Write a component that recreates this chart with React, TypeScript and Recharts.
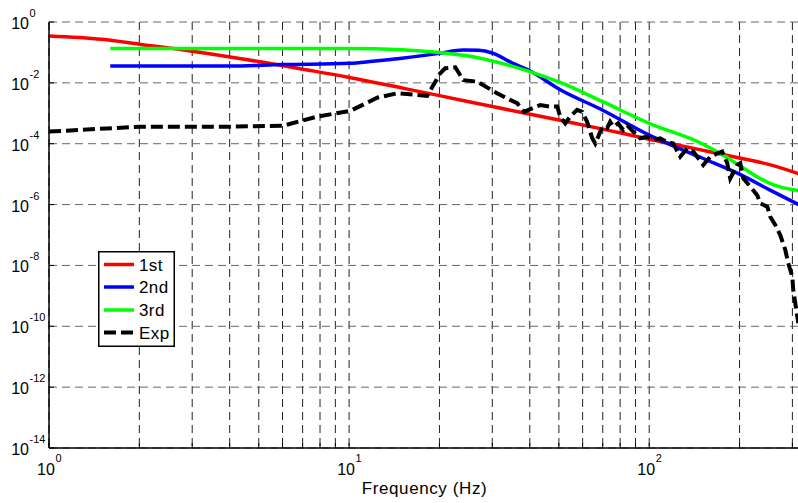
import React from 'react';
import { LineChart, Line, XAxis, YAxis, CartesianGrid, Legend } from 'recharts';

const FONT = '"Liberation Sans", Arial, Helvetica, sans-serif';

const xTicks = [1, 2, 3, 4, 5, 6, 7, 8, 9, 10, 20, 30, 40, 50, 60, 70, 80, 90, 100, 200, 300];
const yTicks = [1e-14, 1e-12, 1e-10, 1e-8, 1e-6, 1e-4, 1e-2, 1];

// 1st order model
const f1st = [1, 1.5, 2, 3, 5, 7, 10, 15, 20, 30, 50, 70, 100, 150, 200, 250, 318];
const p1st = [0.347, 0.269, 0.186, 0.11, 0.0501, 0.0282, 0.0151, 6.76e-3, 3.8e-3, 1.66e-3, 6.03e-4, 3.02e-4, 1.41e-4, 6.17e-5, 3.39e-5, 2.09e-5, 1.0e-5];

// 2nd order model
const f2nd = [1.6, 2, 3, 4, 6, 10, 12, 15, 20, 24, 27, 30, 35, 40, 50, 70, 100, 150, 200, 250, 318];
const p2nd = [0.0355, 0.0355, 0.0355, 0.0355, 0.0398, 0.0437, 0.0513, 0.0646, 0.0933, 0.12, 0.117, 0.0955, 0.0447, 0.0251, 6.31e-3, 1.26e-3, 1.91e-4, 3.39e-5, 1.0e-5, 3.16e-6, 9.55e-7];

// 3rd order model
const f3rd = [1.6, 5, 10, 15, 20, 25, 30, 40, 50, 70, 100, 150, 176, 200, 230, 260, 318];
const p3rd = [0.135, 0.135, 0.135, 0.123, 0.1, 0.0759, 0.0525, 0.0234, 0.0107, 2.4e-3, 4.68e-4, 1.0e-4, 4.27e-5, 1.91e-5, 7.94e-6, 4.47e-6, 2.82e-6];

// experiment
const fExp = [
  1, 2.01, 4.01, 6.03, 7.82, 10.1, 12.4, 14.5, 18.2, 20.1, 20.9, 22.6, 24.0, 26.7, 31.1, 34.4, 36.3, 38.3,
  43.3, 46.8, 49.4, 50.5, 52.5, 54.5, 57.5, 59.8, 62.1, 64.6, 66.1, 67.6, 69.7, 72.4, 74.1, 75.9, 78.8,
  81.9, 84.5, 88.4, 93.3, 98.5, 103.1, 108.8, 114.8, 120.2, 126.9, 133.9, 140.2, 151.4, 159.7, 168.6,
  175.1, 182.0, 186.2, 196.5, 201.1, 205.8, 217.1, 229.1, 234.4, 247.4, 253.1, 263.0, 273.3, 284.0,
  290.6, 299.8, 302.0, 306.7, 311.5, 313.9,
];
const pExp = [
  2.51e-4, 3.63e-4, 3.63e-4, 3.89e-4, 7.76e-4, 1.2e-3, 3.24e-3, 4.57e-3, 3.72e-3, 0.0204, 0.0302, 0.0324,
  0.0123, 0.011, 4.57e-3, 2.75e-3, 2.14e-3, 1.12e-3, 1.86e-3, 1.66e-3, 1.66e-3, 7.76e-4, 4.68e-4, 7.76e-4,
  1.29e-3, 1.12e-3, 5.25e-4, 1.51e-4, 1.02e-4, 1.7e-4, 3.63e-4, 3.24e-4, 5.25e-4, 3.63e-4, 4.68e-4,
  2.82e-4, 3.98e-4, 2.51e-4, 1.51e-4, 1.7e-4, 1.32e-4, 1.51e-4, 1.12e-4, 1.02e-4, 3.72e-5, 7.08e-5,
  5.5e-5, 2.0e-5, 3.72e-5, 4.79e-5, 5.5e-5, 2.29e-5, 7.24e-6, 2.0e-5, 2.29e-5, 7.24e-6, 3.89e-6,
  2.04e-6, 1.1e-6, 8.51e-7, 3.98e-7, 2.14e-7, 1.0e-7, 3.24e-8, 1.17e-8, 4.27e-9, 1.55e-9, 5.75e-10,
  2.09e-10, 1.26e-10,
];

const toPoints = (f: number[], p: number[]) => f.map((v, i) => ({ f: v, p: p[i] }));

const series = [
  { name: '1st', color: '#ff0000', data: toPoints(f1st, p1st), dash: undefined as string | undefined, width: 3.5, curve: 'monotone' },
  { name: '2nd', color: '#0000ff', data: toPoints(f2nd, p2nd), dash: undefined, width: 3.5, curve: 'monotone' },
  { name: '3rd', color: '#00ff00', data: toPoints(f3rd, p3rd), dash: undefined, width: 3.5, curve: 'monotone' },
  { name: 'Exp', color: '#000000', data: toPoints(fExp, pExp), dash: '12 5', width: 4, curve: 'linear' },
];

const isPow10 = (v: number) => {
  const e = Math.round(Math.log10(v));
  return Math.abs(v - Math.pow(10, e)) < 1e-6 * v;
};

const BottomTick = (props: any) => {
  const { x, y, payload } = props;
  const v = payload.value;
  const major = isPow10(v);
  const e = Math.round(Math.log10(v));
  return (
    <g>
      <line x1={x} x2={x} y1={y} y2={y - 5} stroke="#000" />
      {major && (
        <>
          <text x={x - 3} y={y + 27} textAnchor="middle" fontSize={16} fontFamily={FONT} fill="#000">10</text>
          <text x={x + 6.5} y={y + 14} fontSize={11} fontFamily={FONT} fill="#000">{e}</text>
        </>
      )}
    </g>
  );
};

const TopTick = (props: any) => {
  const { x, y } = props;
  return <line x1={x} x2={x} y1={y} y2={y + 5} stroke="#000" />;
};

const LeftTick = (props: any) => {
  const { x, y, payload } = props;
  const e = Math.round(Math.log10(payload.value));
  return (
    <g>
      <line x1={x} x2={x + 5} y1={y} y2={y} stroke="#000" />
      <text x={x - 20} y={y + 7} textAnchor="end" fontSize={16} fontFamily={FONT} fill="#000">10</text>
      <text x={x - 19.5} y={y - 5} fontSize={11} fontFamily={FONT} fill="#000">{e}</text>
    </g>
  );
};

const LegendBox = () => (
  <svg width={77} height={96} style={{ display: 'block' }}>
    <rect x={0.75} y={0.75} width={75.5} height={94.5} fill="#fff" stroke="#000" strokeWidth={1.5} />
    {series.map((s, i) => {
      const cy = [13.5, 36, 59, 81.5][i];
      return (
        <g key={s.name}>
          <line x1={6} x2={36} y1={cy} y2={cy} stroke={s.color} strokeWidth={s.width} strokeDasharray={s.dash} />
          <text x={41} y={cy + 6} fontSize={17} fontFamily={FONT} letterSpacing={0.4} fill="#000">{s.name}</text>
        </g>
      );
    })}
  </svg>
);

export default function App() {
  return (
    <div style={{ position: 'absolute', left: 0, top: 0, width: 798, height: 503, overflow: 'hidden', background: '#fff', fontFamily: FONT }}>
      <LineChart width={800} height={503} margin={{ top: 22, right: 0, bottom: 0, left: 0 }}>
        <CartesianGrid horizontal={false} stroke="#222" strokeDasharray="8 5" />
        <CartesianGrid vertical={false} stroke="#666" strokeDasharray="8 5" />
        <XAxis
          dataKey="f"
          type="number"
          scale="log"
          domain={[1, 318]}
          allowDataOverflow
          ticks={xTicks}
          interval={0}
          height={55}
          tickSize={0}
          tickMargin={0}
          tickLine={false}
          tick={<BottomTick />}
          axisLine={{ stroke: '#000', strokeWidth: 1.5 }}
          label={{ value: 'Frequency (Hz)', position: 'insideBottom', offset: 9, fill: '#000', fontSize: 17, fontFamily: FONT, letterSpacing: 0.6 }}
        />
        <XAxis
          xAxisId="top"
          orientation="top"
          dataKey="f"
          type="number"
          scale="log"
          domain={[1, 318]}
          allowDataOverflow
          ticks={xTicks}
          interval={0}
          height={0}
          tickSize={0}
          tickMargin={0}
          tickLine={false}
          tick={<TopTick />}
          axisLine={{ stroke: '#000', strokeWidth: 1.5 }}
          label={{ value: 'Power Spectrum of y(s)=H(s)r(s)', position: 'top', offset: 8, fill: '#000', fontSize: 17, fontFamily: FONT, letterSpacing: 0.6 }}
        />
        <YAxis
          dataKey="p"
          type="number"
          scale="log"
          domain={[1e-14, 1]}
          allowDataOverflow
          ticks={yTicks}
          interval={0}
          width={49}
          tickSize={0}
          tickMargin={0}
          tickLine={false}
          tick={<LeftTick />}
          axisLine={{ stroke: '#000', strokeWidth: 1.5 }}
        />
        <Legend
          layout="vertical"
          align="center"
          verticalAlign="middle"
          content={() => <LegendBox />}
          wrapperStyle={{ left: 98, top: 251, width: 77, height: 96 }}
        />
        {series.map((s) => (
          <Line
            key={s.name}
            data={s.data}
            dataKey="p"
            name={s.name}
            type={s.curve as any}
            stroke={s.color}
            strokeWidth={s.width}
            strokeDasharray={s.dash}
            dot={false}
            activeDot={false}
            isAnimationActive={false}
          />
        ))}
      </LineChart>
    </div>
  );
}
